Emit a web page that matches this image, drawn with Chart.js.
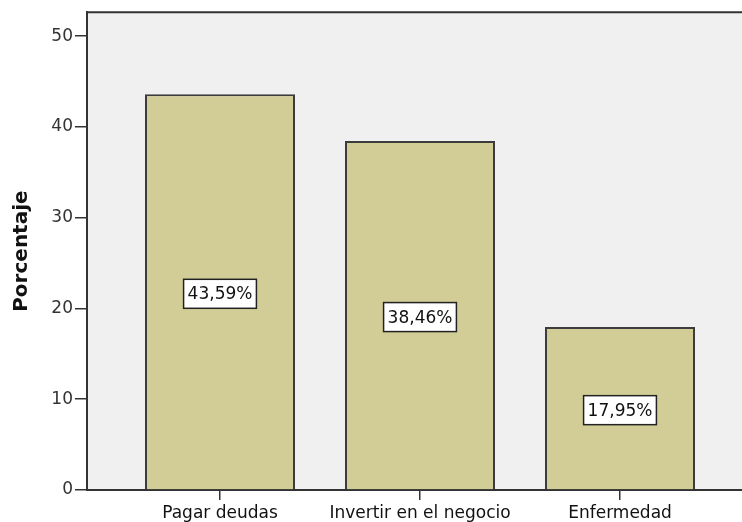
<!DOCTYPE html>
<html>
<head>
<meta charset="utf-8">
<script src="https://cdn.jsdelivr.net/npm/chart.js@4/dist/chart.umd.min.js"></script>
<style>
html,body{margin:0;padding:0;background:#ffffff;overflow:hidden;}
#wrap{position:relative;width:742px;height:522px;}
</style>
</head>
<body>
<div id="wrap"><canvas id="c" width="742" height="522"></canvas></div>
<script>
const categories = ["Pagar deudas", "Invertir en el negocio", "Enfermedad"];
const values = [43.59, 38.46, 17.95];
const valueLabels = ["43,59%", "38,46%", "17,95%"];
const yTicks = [0, 10, 20, 30, 40, 50];
const yAxisTitle = "Porcentaje";

const FONT = "'DejaVu Sans', sans-serif";

const plotBg = {
  id: 'plotBg',
  beforeDraw(chart) {
    const {ctx, chartArea: a} = chart;
    ctx.save();
    ctx.fillStyle = '#f0f0f0';
    ctx.fillRect(a.left, a.top, a.right - a.left, a.bottom - a.top);
    ctx.strokeStyle = '#333333';
    ctx.lineWidth = 2;
    ctx.beginPath();
    ctx.moveTo(a.left, a.top);
    ctx.lineTo(a.right + 2, a.top);
    ctx.stroke();
    ctx.restore();
  }
};

const boxLabels = {
  id: 'boxLabels',
  afterDatasetsDraw(chart) {
    const {ctx} = chart;
    const meta = chart.getDatasetMeta(0);
    ctx.save();
    ctx.font = "17px " + FONT;
    ctx.textAlign = 'center';
    ctx.textBaseline = 'middle';
    meta.data.forEach((bar, i) => {
      const txt = valueLabels[i];
      const w = ctx.measureText(txt).width + 8;
      const h = 29;
      const cx = bar.x;
      const cy = (bar.y + bar.base) / 2 + 2;
      ctx.fillStyle = '#ffffff';
      ctx.fillRect(cx - w / 2, cy - h / 2, w, h);
      ctx.strokeStyle = '#222222';
      ctx.lineWidth = 1.5;
      ctx.strokeRect(cx - w / 2, cy - h / 2, w, h);
      ctx.fillStyle = '#111111';
      ctx.fillText(txt, cx, cy + 1);
    });
    ctx.restore();
  }
};

new Chart(document.getElementById('c'), {
  type: 'bar',
  data: {
    datasets: [{
      data: values.map((v, i) => ({x: i, y: v})),
      backgroundColor: '#d2cd96',
      borderColor: '#3c3c3c',
      borderWidth: 2,
      barPercentage: 0.75,
      categoryPercentage: 1.0
    }]
  },
  options: {
    responsive: false,
    animation: false,
    devicePixelRatio: 1,
    layout: {padding: {top: 11, right: 0, bottom: 0, left: 0}},
    plugins: {legend: {display: false}, tooltip: {enabled: false}},
    scales: {
      x: {
        type: 'linear',
        offset: false,
        min: -0.665,
        max: 2.61,
        afterBuildTicks(scale) { scale.ticks = categories.map((c, i) => ({value: i})); },
        afterFit(scale) { scale.height = 32; },
        ticks: {
          includeBounds: false,
          autoSkip: false,
          maxRotation: 0,
          padding: 3,
          color: '#111111',
          font: {family: FONT, size: 17},
          callback: (v) => categories[v] !== undefined ? categories[v] : ''
        },
        grid: {offset: false, drawOnChartArea: false, drawTicks: true, tickLength: 10, color: '#333333', lineWidth: 1.5},
        border: {display: true, color: '#333333', width: 2}
      },
      y: {
        min: 0,
        max: 52.64,
        afterBuildTicks(scale) { scale.ticks = yTicks.map(v => ({value: v})); },
        afterFit(scale) { scale.width = 87; },
        ticks: {
          includeBounds: false,
          padding: 2,
          color: '#333333',
          font: {family: FONT, size: 17}
        },
        grid: {drawOnChartArea: false, drawTicks: true, tickLength: 12, color: '#333333', lineWidth: 1.5},
        border: {display: true, color: '#333333', width: 2},
        title: {
          display: true,
          text: yAxisTitle,
          color: '#111111',
          font: {family: FONT, size: 20, weight: 'bold'},
          padding: {top: 10, bottom: 0}
        }
      }
    }
  },
  plugins: [plotBg, boxLabels]
});
</script>
</body>
</html>
